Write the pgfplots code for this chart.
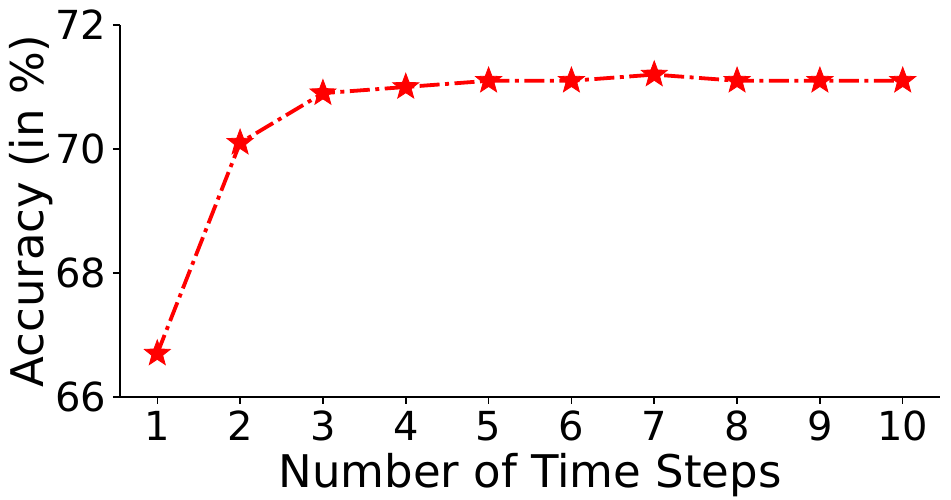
\documentclass[border=0pt]{standalone}
\usepackage{fontspec}
\setmainfont{DejaVu Sans}
\usepackage{pgfplots}
\pgfplotsset{compat=1.18}
% filled five-pointed star
\pgfdeclareplotmark{fstar}{%
  \pgfpathmoveto{\pgfqpointpolar{90}{\pgfplotmarksize}}%
  \pgfpathlineto{\pgfqpointpolar{126}{0.42\pgfplotmarksize}}%
  \pgfpathlineto{\pgfqpointpolar{162}{\pgfplotmarksize}}%
  \pgfpathlineto{\pgfqpointpolar{198}{0.42\pgfplotmarksize}}%
  \pgfpathlineto{\pgfqpointpolar{234}{\pgfplotmarksize}}%
  \pgfpathlineto{\pgfqpointpolar{270}{0.42\pgfplotmarksize}}%
  \pgfpathlineto{\pgfqpointpolar{306}{\pgfplotmarksize}}%
  \pgfpathlineto{\pgfqpointpolar{342}{0.42\pgfplotmarksize}}%
  \pgfpathlineto{\pgfqpointpolar{18}{\pgfplotmarksize}}%
  \pgfpathlineto{\pgfqpointpolar{54}{0.42\pgfplotmarksize}}%
  \pgfpathclose
  \pgfusepathqfillstroke
}
\begin{document}
\begin{tikzpicture}
\begin{axis}[
  name=ax,
  scale only axis,
  width=410pt, height=186pt,
  xmin=0.55, xmax=10.45, ymin=66, ymax=72,
  xtick={1,...,10}, ytick={66,68,70,72},
  axis x line*=bottom, axis y line*=left,
  axis line style={line width=0.75pt, -},
  tick align=outside, major tick length=3.5pt,
  tick style={line width=0.75pt, black},
  /pgf/number format/assume math mode=true,
  ticklabel style={font=\fontsize{20}{24}\selectfont},
  xlabel={Number of Time Steps}, ylabel={Accuracy (in \%)},
  label style={font=\fontsize{22.5}{27}\selectfont},
  ylabel style={yshift=-6pt},
  xlabel style={yshift=1pt},
]
  \addplot[red, line width=1.9pt, dash pattern=on 10pt off 2.75pt on 2pt off 2.75pt,
    mark=fstar, mark size=6.8pt, mark options={solid, fill=red, line width=0.4pt}]
  coordinates {(1,66.7)(2,70.1)(3,70.9)(4,71.0)(5,71.1)(6,71.1)(7,71.2)(8,71.1)(9,71.1)(10,71.1)};
\end{axis}
\pgfresetboundingbox
\path ([shift={(-60pt,-51.5pt)}]ax.south west) rectangle ([shift={(5.5pt,12.5pt)}]ax.north east);
\end{tikzpicture}
\end{document}
